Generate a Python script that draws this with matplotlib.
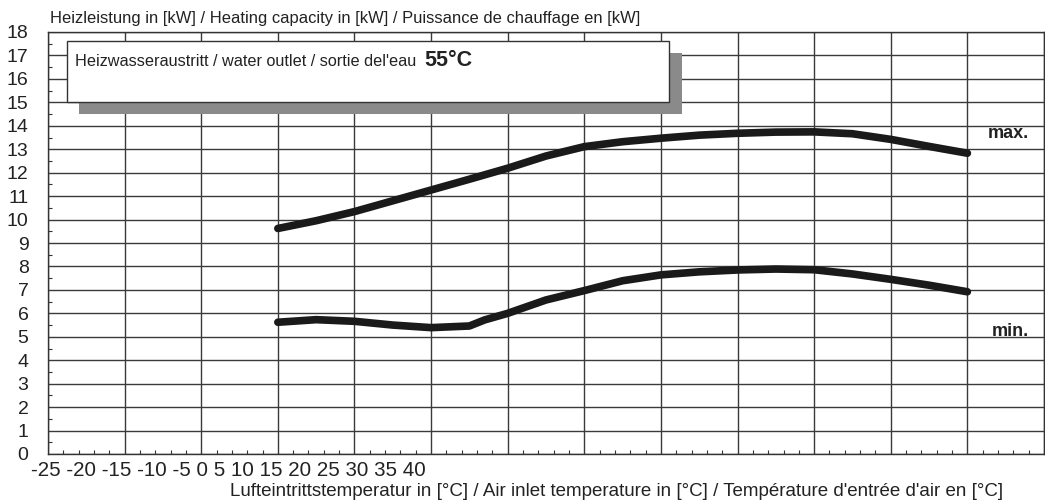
import matplotlib.pyplot as plt
from matplotlib.patches import Rectangle
from matplotlib.ticker import MultipleLocator

plt.rcParams["font.family"] = ["Liberation Sans", "DejaVu Sans"]

# air inlet temperature (°C) and heating capacity (kW)
temp_max = [-10, -7.5, -5, -2.5, 0, 2.5, 5, 7.5, 10, 12.5, 15, 17.5, 20, 22.5, 25, 27.5, 30, 32.5, 35]
cap_max = [9.62, 9.95, 10.34, 10.8, 11.26, 11.72, 12.19, 12.71, 13.11, 13.32, 13.47, 13.6, 13.68, 13.73, 13.74,
           13.66, 13.42, 13.12, 12.83]

temp_min = [-10, -7.5, -5, -2.5, 0, 2.5, 3.5, 5, 7.5, 10, 12.5, 15, 17.5, 20, 22.5, 25, 27.5, 30, 32.5, 35]
cap_min = [5.62, 5.73, 5.66, 5.5, 5.39, 5.46, 5.72, 6.0, 6.57, 6.97, 7.39, 7.64, 7.77, 7.85, 7.89, 7.86, 7.68,
           7.45, 7.2, 6.92]

x_ticks = [-25, -20, -15, -10, -5, 0, 5, 10, 15, 20, 25, 30, 35, 40]
y_ticks = list(range(0, 19))

fig = plt.figure(figsize=(10.45, 5.04), dpi=100)
ax = fig.add_axes([48 / 1045, 50 / 504, 996 / 1045, 422 / 504])

ax.set_xlim(x_ticks[0], x_ticks[-1])
ax.set_ylim(y_ticks[0], y_ticks[-1])

# grid every 5 °C and every kW
ax.set_xticks(x_ticks)
ax.set_yticks(y_ticks)
ax.xaxis.set_minor_locator(MultipleLocator(1))
ax.yaxis.set_minor_locator(MultipleLocator(0.5))
ax.grid(True, which="major", color="#3a3a3a", linewidth=1.0)
ax.tick_params(which="major", length=0, labelbottom=False)
ax.tick_params(axis="y", which="major", labelsize=14, pad=14, colors="#222222")
ax.tick_params(which="minor", direction="in", length=3, color="#333333", width=0.8)
for s in ax.spines.values():
    s.set_color("#333333")
    s.set_linewidth(1.0)

# the curves
ax.plot(temp_max, cap_max, color="#1a1a1a", linewidth=5.5, solid_capstyle="round", solid_joinstyle="round", zorder=4)
ax.plot(temp_min, cap_min, color="#1a1a1a", linewidth=5.5, solid_capstyle="round", solid_joinstyle="round", zorder=4)

ax.text((1029 - 48) / 996, (454 - 133) / 422, "max.", transform=ax.transAxes, ha="right",
        va="center", fontsize=13, fontweight="bold", color="#222222", zorder=5)
ax.text((1029 - 48) / 996, (454 - 331) / 422, "min.", transform=ax.transAxes, ha="right",
        va="center", fontsize=13, fontweight="bold", color="#222222", zorder=5)

# legend box with shadow
def px_box(x0, y0, x1, y1):
    # pixel coords (from top-left of figure) -> axes fraction
    return ((x0 - 48) / 996, (454 - y1) / 422, (x1 - x0) / 996, (y1 - y0) / 422)

bx, by, bw, bh = px_box(79, 53, 682, 114)
ax.add_patch(Rectangle((bx, by), bw, bh, transform=ax.transAxes, facecolor="#8a8a8a", edgecolor="none", zorder=6))
bx, by, bw, bh = px_box(67, 41, 669, 102)
ax.add_patch(Rectangle((bx, by), bw, bh, transform=ax.transAxes, facecolor="white", edgecolor="#333333",
                       linewidth=1.0, zorder=7))
fig.text(75 / 1045, 1 - 61 / 504, "Heizwasseraustritt / water outlet / sortie del'eau", fontsize=11.7,
         color="#222222", va="center", ha="left", zorder=8)
fig.text(424 / 1045, 1 - 60 / 504, "55°C", fontsize=15.5, fontweight="bold", color="#222222", va="center",
         ha="left", zorder=8)

# axis titles
fig.text(50 / 1045, 1 - 18 / 504, "Heizleistung in [kW] / Heating capacity in [kW] / Puissance de chauffage en [kW]",
         fontsize=11.9, color="#222222", va="center", ha="left")
fig.text(1003 / 1045, 1 - 492 / 504,
         "Lufteintrittstemperatur in [°C] / Air inlet temperature in [°C] / Température d'entrée d'air en [°C]",
         fontsize=13.5, color="#222222", va="center", ha="right")

# the temperature scale is printed squeezed together at the lower left
fig.text(31 / 1045, 1 - 471 / 504, " ".join(str(t) for t in x_ticks), fontsize=14.8, color="#222222",
         va="center", ha="left")

fig.savefig("out.png", dpi=100)
